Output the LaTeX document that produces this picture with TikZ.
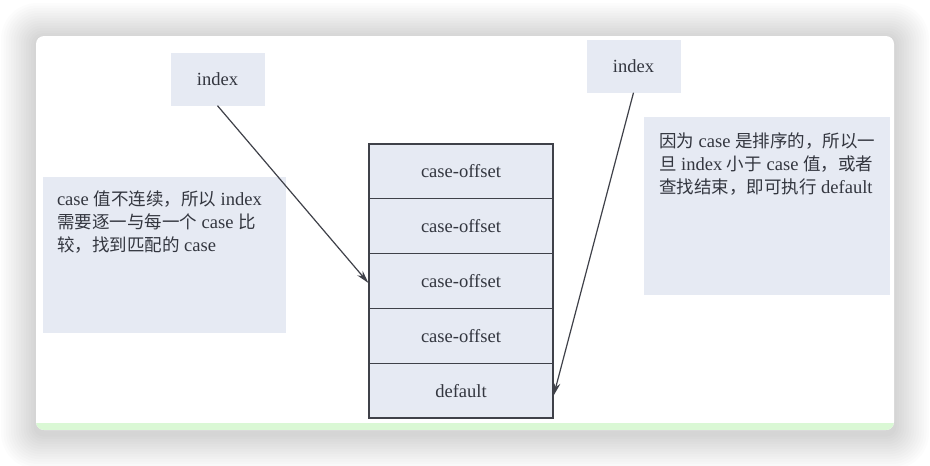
\documentclass[tikz,border=0pt]{standalone}
\usepackage{fontspec}
\setmainfont{Liberation Serif}[Scale=1.06]
\newfontfamily\cjk{Noto Sans CJK SC}
\usetikzlibrary{arrows.meta}
\definecolor{txt}{HTML}{33363F}
\definecolor{linec}{HTML}{3F4149}
\definecolor{boxfill}{HTML}{E6EAF3}
\definecolor{greenstrip}{HTML}{DAF8D5}
\newcommand\zh[1]{{\cjk #1}}
\tikzset{
  base/.style={inner sep=0pt, text=txt, font=\fontsize{17.5}{23}\selectfont},
  idxbox/.style={base, fill=boxfill, minimum width=94pt, minimum height=53pt},
  notebox/.style={base, fill=boxfill},
  notetext/.style={base, anchor=north west, align=left, font=\fontsize{17.5}{23}\selectfont},
  cell/.style={base, draw=linec, line width=1.2pt, fill=boxfill, minimum width=184pt, minimum height=54.8pt},
  conn/.style={draw=linec, line width=1.2pt, -{Stealth[length=13pt,width=7pt]}}
}
\begin{document}
\begin{tikzpicture}[x=1pt,y=-1pt]
\useasboundingbox (0,0) rectangle (930,466);
\fill[white] (0,0) rectangle (930,466);
% shadow
\foreach \i in {1,...,14}{
  \fill[black,opacity=0.012,rounded corners={8pt+\i*2pt}]
    ({36-\i*2.5},{38-\i*2.5}) rectangle ({894+\i*2.5},{434+\i*2.5});
}
% card
\fill[white,rounded corners=8pt] (36,36) rectangle (894,430);
\begin{scope}
  \clip[rounded corners=8pt] (36,36) rectangle (894,430);
  \fill[greenstrip] (36,423) rectangle (894,430);
\end{scope}

% index boxes
\node[idxbox] (lidx) at (217.5,79) {index};
\node[idxbox] (ridx) at (633.5,66) {index};

% note boxes
\node[notebox, minimum width=243pt, minimum height=156pt] (lnote) at (164.5,255) {};
\node[notetext] (ltext) at ([xshift=14pt,yshift=-14pt]lnote.north west)
  {case \zh{值不连续，所以} index\\ \zh{需要逐一与每一个} case \zh{比}\\ \zh{较，找到匹配的} case};
\node[notebox, minimum width=246pt, minimum height=178pt] (rnote) at (767,206) {};
\node[notetext] (rtext) at ([xshift=15pt,yshift=-16pt]rnote.north west)
  {\zh{因为} case \zh{是排序的，所以一}\\ \zh{旦} index \zh{小于} case \zh{值，或者}\\ \zh{查找结束，即可执行} default};

% stack
\node[cell] (r1) at (461,171.4) {case-offset};
\node[cell] (r2) at (461,226.2) {case-offset};
\node[cell] (r3) at (461,281.0) {case-offset};
\node[cell] (r4) at (461,335.8) {case-offset};
\node[cell] (r5) at (461,390.6) {default};

% connectors
\draw[conn] (lidx.south) -- ([yshift=-2pt]r3.west);
\draw[conn] (ridx.south) -- ([yshift=-5pt]r5.east);
\end{tikzpicture}
\end{document}
